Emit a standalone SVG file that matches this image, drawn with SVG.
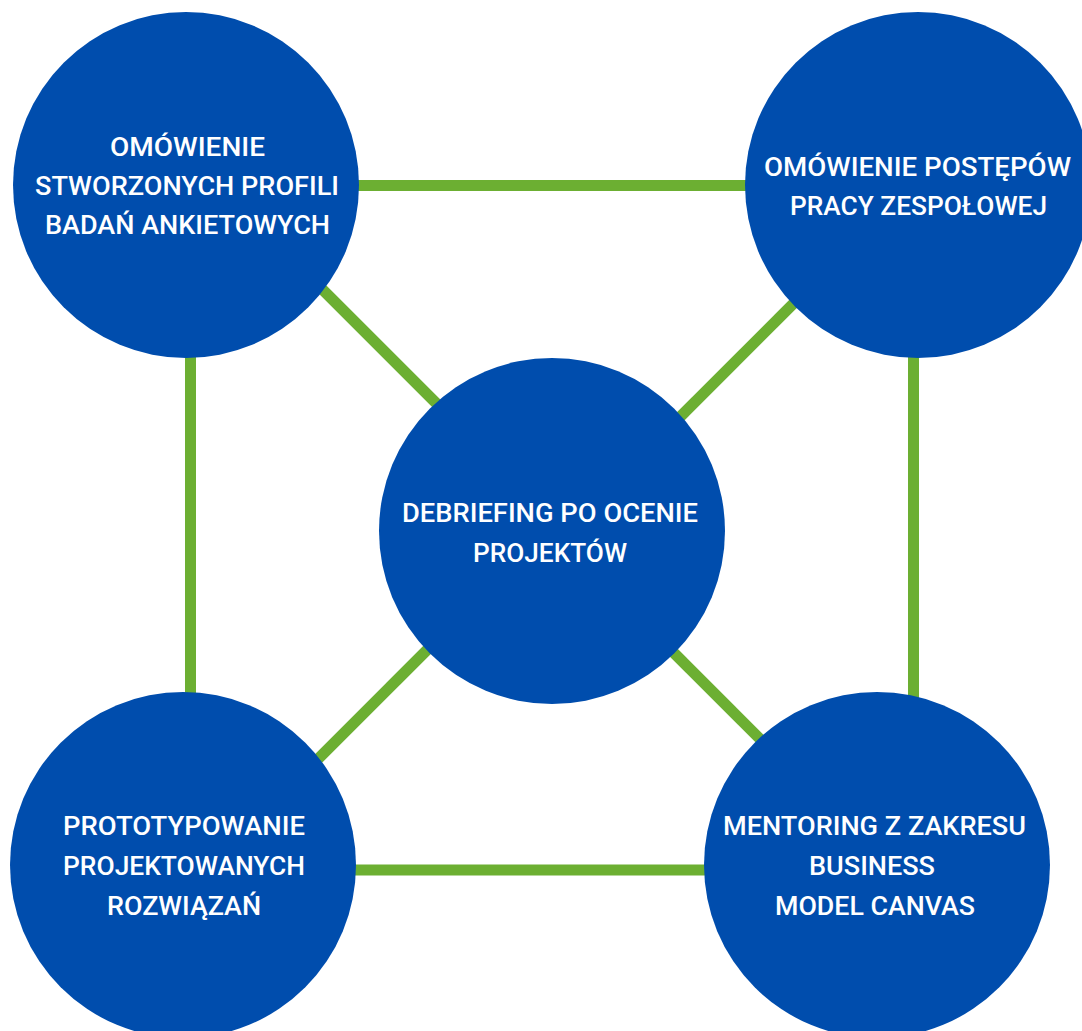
<svg xmlns="http://www.w3.org/2000/svg" width="1082" height="1031" viewBox="0 0 1082 1031">
<style>
.node{fill:#004DAD;}
.lbl{font-family:Roboto,"Liberation Sans",sans-serif;font-weight:500;font-size:26px;fill:#ffffff;text-anchor:middle;}
.conn{stroke:#6CAF32;stroke-width:11;fill:none;}
</style>
<rect width="1082" height="1031" fill="#ffffff"/>
<g id="connectors">
<line class="conn" x1="300" y1="185.5" x2="800" y2="185.5"/>
<line class="conn" x1="190.5" y1="300" x2="190.5" y2="750"/>
<line class="conn" x1="913.5" y1="300" x2="913.5" y2="750"/>
<line class="conn" x1="300" y1="870" x2="760" y2="870"/>
<line class="conn" x1="300" y1="267" x2="460" y2="427"/>
<line class="conn" x1="820" y1="277" x2="660" y2="437"/>
<line class="conn" x1="450" y1="627" x2="295" y2="782"/>
<line class="conn" x1="650" y1="629" x2="780" y2="759"/>
</g>
<g id="node-tl">
<circle class="node" cx="186" cy="185" r="173"/>
<text class="lbl" x="187.5" y="156" textLength="155" lengthAdjust="spacingAndGlyphs">OMÓWIENIE</text>
<text class="lbl" x="187" y="194.5" textLength="304" lengthAdjust="spacingAndGlyphs">STWORZONYCH PROFILI</text>
<text class="lbl" x="187.5" y="234" textLength="285" lengthAdjust="spacingAndGlyphs">BADAŃ ANKIETOWYCH</text>
</g>
<g id="node-tr">
<circle class="node" cx="918" cy="185" r="173"/>
<text class="lbl" x="917.5" y="176" textLength="307" lengthAdjust="spacingAndGlyphs">OMÓWIENIE POSTĘPÓW</text>
<text class="lbl" x="918.5" y="215" textLength="257" lengthAdjust="spacingAndGlyphs">PRACY ZESPOŁOWEJ</text>
</g>
<g id="node-center">
<circle class="node" cx="552" cy="531" r="173"/>
<text class="lbl" x="550" y="522" textLength="296" lengthAdjust="spacingAndGlyphs">DEBRIEFING PO OCENIE</text>
<text class="lbl" x="550" y="562" textLength="154" lengthAdjust="spacingAndGlyphs">PROJEKTÓW</text>
</g>
<g id="node-bl">
<circle class="node" cx="183" cy="865" r="173"/>
<text class="lbl" x="184" y="835" textLength="242" lengthAdjust="spacingAndGlyphs">PROTOTYPOWANIE</text>
<text class="lbl" x="184" y="874.5" textLength="242" lengthAdjust="spacingAndGlyphs">PROJEKTOWANYCH</text>
<text class="lbl" x="184" y="915" textLength="154" lengthAdjust="spacingAndGlyphs">ROZWIĄZAŃ</text>
</g>
<g id="node-br">
<circle class="node" cx="877" cy="865" r="173"/>
<text class="lbl" x="874.5" y="834.5" textLength="303" lengthAdjust="spacingAndGlyphs">MENTORING Z ZAKRESU</text>
<text class="lbl" x="872" y="874.5" textLength="126" lengthAdjust="spacingAndGlyphs">BUSINESS</text>
<text class="lbl" x="875" y="915" textLength="200" lengthAdjust="spacingAndGlyphs">MODEL CANVAS</text>
</g>
</svg>
